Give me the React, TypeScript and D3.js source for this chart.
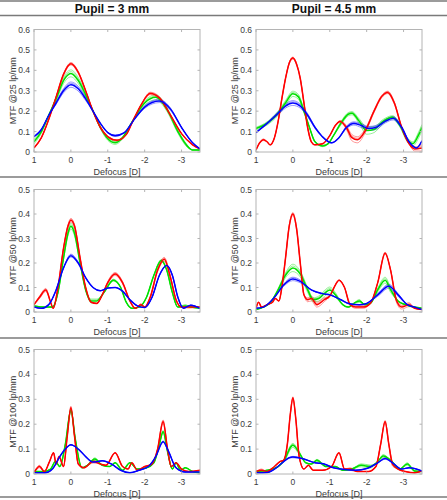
import React from 'react';
import * as d3 from 'd3';

type P = number[]; // [defocus, mtf, spread]

const pupilTitles = ['Pupil = 3 mm', 'Pupil = 4.5 mm'];
const freqLabels = ['MTF @25 lp/mm', 'MTF @50 lp/mm', 'MTF @100 lp/mm'];
const xLabel = 'Defocus [D]';
const xTicks = [1, 0, -1, -2, -3];
const xDomain = [1, -3.5];
const yTicksRow1 = [0, 0.1, 0.2, 0.3, 0.4, 0.5, 0.6];
const yTicksRow23 = [0, 0.1, 0.2, 0.3, 0.4, 0.5];
const yMaxByRow = [0.6, 0.5, 0.5];

// ---- Pupil 3 mm, 25 lp/mm
const p3f25Red: P[] = [[1,0.02],[0.8,0.07],[0.6,0.16],[0.4,0.27],[0.2,0.38,0.004],[0,0.432,0.006],[-0.2,0.39,0.005],[-0.4,0.3],[-0.6,0.2],[-0.8,0.12],[-1,0.075],[-1.25,0.057,0.003],[-1.5,0.085],[-1.7,0.16],[-1.9,0.23],[-2.15,0.287,0.006],[-2.4,0.265,0.006],[-2.7,0.18],[-3,0.09],[-3.3,0.035],[-3.5,0.015]];
const p3f25Green: P[] = [[1,0.05,0.01],[0.8,0.1,0.008],[0.6,0.18],[0.4,0.26,0.01],[0.2,0.35,0.015],[0,0.385,0.017],[-0.2,0.35,0.015],[-0.4,0.28,0.01],[-0.6,0.2],[-0.8,0.12,0.006],[-1,0.065,0.008],[-1.2,0.045,0.008],[-1.4,0.07,0.006],[-1.7,0.16],[-2,0.24,0.01],[-2.3,0.268,0.012],[-2.6,0.21,0.01],[-2.9,0.1,0.008],[-3.15,0.03,0.006],[-3.3,0.01],[-3.5,0.01]];
const p3f25Blue: P[] = [[1,0.075],[0.8,0.11],[0.6,0.18],[0.4,0.24,0.006],[0.2,0.3,0.01],[0,0.33,0.013],[-0.2,0.31,0.012],[-0.4,0.26,0.008],[-0.6,0.2],[-0.8,0.14],[-1,0.095],[-1.2,0.08,0.004],[-1.45,0.095],[-1.7,0.155],[-2,0.22,0.006],[-2.4,0.25,0.008],[-2.7,0.21,0.006],[-3,0.12],[-3.3,0.045],[-3.5,0.015]];

// ---- Pupil 4.5 mm, 25 lp/mm
const p45f25Red: P[] = [[1,0.01],[0.9,0.045],[0.8,0.06,0.004],[0.7,0.05],[0.62,0.035],[0.5,0.07],[0.4,0.15],[0.3,0.26],[0.2,0.36],[0.1,0.435,0.004],[0,0.46,0.005],[-0.1,0.43,0.004],[-0.2,0.36],[-0.3,0.24],[-0.4,0.12],[-0.5,0.05],[-0.6,0.035],[-0.8,0.04],[-1,0.08],[-1.15,0.13],[-1.28,0.15,0.004],[-1.45,0.12,0.01],[-1.6,0.07,0.015],[-1.75,0.06,0.015],[-1.95,0.1,0.01],[-2.2,0.2,0.006],[-2.4,0.27,0.006],[-2.57,0.292,0.006],[-2.75,0.24,0.006],[-2.95,0.12],[-3.15,0.04],[-3.3,0.015,0.01],[-3.5,0.02,0.015]];
const p45f25Green: P[] = [[1,0.115,0.006],[0.7,0.14,0.008],[0.4,0.19,0.01],[0.2,0.24,0.012],[0,0.285,0.013],[-0.15,0.27,0.012],[-0.3,0.2,0.008],[-0.45,0.12],[-0.6,0.05],[-0.8,0.03,0.004],[-0.95,0.04],[-1.1,0.08],[-1.3,0.14,0.008],[-1.5,0.185,0.008],[-1.6,0.19,0.008],[-1.8,0.15,0.012],[-2,0.105,0.018],[-2.2,0.11,0.015],[-2.45,0.15,0.01],[-2.7,0.17,0.008],[-2.9,0.13,0.008],[-3.1,0.06,0.01],[-3.25,0.04,0.01],[-3.4,0.08,0.015],[-3.5,0.12,0.015]];
const p45f25Blue: P[] = [[1,0.095],[0.7,0.14,0.004],[0.4,0.19,0.008],[0.2,0.225,0.01],[0,0.24,0.012],[-0.2,0.225,0.01],[-0.4,0.18,0.008],[-0.6,0.12,0.004],[-0.8,0.075],[-1.05,0.045],[-1.25,0.07],[-1.45,0.12,0.006],[-1.65,0.14,0.008],[-1.85,0.13,0.01],[-2.05,0.115,0.01],[-2.25,0.12,0.01],[-2.5,0.15,0.008],[-2.72,0.165,0.008],[-2.95,0.12,0.006],[-3.15,0.05],[-3.35,0.02],[-3.5,0.055]];

// ---- Pupil 3 mm, 50 lp/mm
const p3f50Red: P[] = [[1,0.03],[0.85,0.06,0.005],[0.68,0.09,0.006],[0.55,0.04],[0.48,0.015],[0.35,0.1],[0.2,0.26],[0.08,0.35,0.006],[0,0.375,0.007],[-0.1,0.35,0.006],[-0.25,0.22],[-0.4,0.1],[-0.55,0.04],[-0.7,0.035],[-0.85,0.07],[-1,0.12,0.005],[-1.2,0.155,0.006],[-1.4,0.12,0.005],[-1.6,0.045],[-1.75,0.015],[-1.9,0.03,0.004],[-2,0.02],[-2.15,0.06],[-2.35,0.17,0.006],[-2.53,0.215,0.008],[-2.7,0.14,0.006],[-2.85,0.05],[-3,0.02],[-3.2,0.02,0.004],[-3.5,0.02]];
const p3f50Green: P[] = [[1,0.025],[0.7,0.02],[0.5,0.02],[0.35,0.08],[0.2,0.22,0.006],[0.08,0.32,0.01],[0,0.35,0.012],[-0.1,0.32,0.01],[-0.25,0.2,0.006],[-0.4,0.09],[-0.55,0.045,0.008],[-0.7,0.045,0.008],[-0.9,0.08],[-1.15,0.13,0.004],[-1.35,0.1],[-1.5,0.04],[-1.65,0.015],[-1.85,0.02],[-2.05,0.06],[-2.25,0.15],[-2.45,0.21,0.004],[-2.6,0.17],[-2.75,0.08],[-2.9,0.02],[-3.1,0.025,0.005],[-3.25,0.02],[-3.5,0.015]];
const p3f50Blue: P[] = [[1,0.02],[0.8,0.015],[0.6,0.03],[0.4,0.09],[0.2,0.18],[0,0.23,0.006],[-0.2,0.2,0.004],[-0.4,0.14],[-0.6,0.1],[-0.8,0.087],[-1,0.098],[-1.2,0.1],[-1.4,0.085],[-1.6,0.05],[-1.8,0.025],[-2,0.018],[-2.2,0.06],[-2.4,0.15],[-2.6,0.19],[-2.75,0.15],[-2.9,0.06],[-3.05,0.015],[-3.25,0.028],[-3.5,0.015]];

// ---- Pupil 4.5 mm, 50 lp/mm
const p45f50Red: P[] = [[1,0.015],[0.93,0.04],[0.85,0.02],[0.7,0.03],[0.55,0.04],[0.48,0.055],[0.38,0.045],[0.3,0.1],[0.2,0.22],[0.1,0.35,0.005],[0,0.4,0.006],[-0.1,0.34,0.005],[-0.2,0.2],[-0.3,0.07],[-0.4,0.05,0.008],[-0.5,0.055,0.01],[-0.65,0.03,0.01],[-0.85,0.05,0.008],[-1,0.065],[-1.15,0.11],[-1.25,0.13],[-1.4,0.1],[-1.55,0.03],[-1.7,0.02,0.005],[-1.9,0.02,0.005],[-2.1,0.035],[-2.3,0.12],[-2.5,0.24,0.004],[-2.65,0.17],[-2.8,0.05,0.008],[-2.95,0.02,0.008],[-3.15,0.03,0.008],[-3.3,0.015],[-3.5,0.01]];
const p45f50Green: P[] = [[1,0.01],[0.8,0.02],[0.6,0.04],[0.4,0.09,0.006],[0.2,0.15,0.01],[0,0.18,0.015],[-0.2,0.155,0.012],[-0.4,0.09,0.01],[-0.55,0.05,0.008],[-0.7,0.055,0.01],[-0.85,0.075,0.012],[-1,0.09,0.012],[-1.15,0.07,0.01],[-1.35,0.03],[-1.5,0.02],[-1.65,0.035],[-1.8,0.045,0.006],[-1.95,0.03],[-2.1,0.035],[-2.3,0.09,0.008],[-2.5,0.13,0.012],[-2.65,0.09,0.01],[-2.85,0.045],[-3.05,0.03],[-3.3,0.02],[-3.5,0.015]];
const p45f50Blue: P[] = [[1,0.015],[0.8,0.02],[0.5,0.06],[0.25,0.11,0.005],[0,0.135,0.007],[-0.2,0.125,0.006],[-0.5,0.09],[-0.8,0.075],[-1,0.07],[-1.3,0.05],[-1.5,0.035],[-1.8,0.03],[-2,0.035],[-2.3,0.07,0.006],[-2.6,0.105,0.008],[-2.85,0.07,0.006],[-3.1,0.03],[-3.3,0.02],[-3.5,0.01]];

// ---- Pupil 3 mm, 100 lp/mm
const p3f100Red: P[] = [[1,0.005],[0.85,0.03,0.005],[0.72,0.01],[0.58,0.05],[0.47,0.085],[0.4,0.04],[0.32,0.07],[0.2,0.03],[0.1,0.15],[0,0.265,0.007],[-0.1,0.15],[-0.2,0.04],[-0.35,0.025],[-0.6,0.05,0.006],[-0.8,0.04],[-0.95,0.035],[-1.2,0.085],[-1.4,0.03],[-1.55,0.02],[-1.65,0.045],[-1.8,0.015],[-2,0.03],[-2.2,0.04],[-2.35,0.1],[-2.5,0.21,0.007],[-2.62,0.1],[-2.72,0.03],[-2.85,0.045],[-3,0.02],[-3.2,0.01],[-3.5,0.015]];
const p3f100Green: P[] = [[1,0.01],[0.75,0.01],[0.55,0.02],[0.42,0.05],[0.3,0.03],[0.15,0.12],[0,0.255,0.005],[-0.12,0.14],[-0.3,0.025],[-0.45,0.035],[-0.65,0.06,0.005],[-0.85,0.035],[-1.05,0.03],[-1.2,0.045],[-1.4,0.015],[-1.6,0.045],[-1.8,0.02],[-2.05,0.025],[-2.25,0.045],[-2.4,0.12],[-2.5,0.17,0.005],[-2.62,0.09],[-2.75,0.02],[-2.85,0.045],[-2.97,0.015],[-3.1,0.025],[-3.3,0.01],[-3.5,0.005]];
const p3f100Blue: P[] = [[1,0.005],[0.7,0.005],[0.5,0.02],[0.3,0.07],[0.15,0.1],[0,0.117],[-0.2,0.1],[-0.4,0.07],[-0.6,0.048],[-0.85,0.053],[-1.1,0.04],[-1.35,0.015],[-1.6,0.005],[-1.85,0.015],[-2.1,0.03],[-2.3,0.07],[-2.5,0.13,0.003],[-2.65,0.09],[-2.85,0.025],[-3.1,0.008],[-3.5,0.008]];

// ---- Pupil 4.5 mm, 100 lp/mm
const p45f100Red: P[] = [[1,0.01],[0.85,0.015,0.005],[0.7,0.01],[0.5,0.03],[0.35,0.05],[0.25,0.055],[0.15,0.12],[0.07,0.24],[0,0.305,0.005],[-0.08,0.22],[-0.17,0.07],[-0.3,0.02],[-0.42,0.035],[-0.55,0.015],[-0.8,0.015],[-1.05,0.03],[-1.25,0.085],[-1.4,0.02],[-1.55,0.02,0.005],[-1.75,0.01],[-2.05,0.01],[-2.25,0.03],[-2.38,0.12],[-2.5,0.21,0.005],[-2.6,0.12],[-2.7,0.04,0.008],[-2.85,0.02],[-3.05,0.01],[-3.3,0.005],[-3.5,0.012]];
const p45f100Green: P[] = [[1,0.01],[0.7,0.015],[0.4,0.03],[0.2,0.065,0.006],[0.05,0.11,0.008],[0,0.115,0.008],[-0.15,0.09,0.006],[-0.35,0.045],[-0.5,0.04],[-0.65,0.055,0.004],[-0.9,0.03],[-1.15,0.03],[-1.35,0.015],[-1.6,0.02],[-1.85,0.035,0.006],[-2.1,0.03,0.006],[-2.3,0.05],[-2.45,0.072,0.006],[-2.65,0.055],[-2.9,0.02],[-3.1,0.04,0.005],[-3.3,0.012],[-3.5,0.01]];
const p45f100Blue: P[] = [[1,0.005],[0.7,0.006],[0.45,0.025],[0.25,0.05],[0.1,0.065],[0,0.068,0.003],[-0.3,0.06],[-0.6,0.045],[-0.85,0.04],[-1.1,0.025],[-1.4,0.018],[-1.7,0.015],[-2,0.022],[-2.3,0.045],[-2.5,0.062,0.003],[-2.7,0.045],[-2.95,0.02],[-3.15,0.025],[-3.5,0.012]];

const panelSeries: P[][][][] = [
  [[p3f25Green, p3f25Red, p3f25Blue], [p45f25Green, p45f25Red, p45f25Blue]],
  [[p3f50Green, p3f50Red, p3f50Blue], [p45f50Green, p45f50Red, p45f50Blue]],
  [[p3f100Green, p3f100Red, p3f100Blue], [p45f100Green, p45f100Red, p45f100Blue]],
];
const seriesColors = ['#00e000', '#ff0000', '#0000ff'];

// layout
const W = 447;
const H = 500;
const colX = [[34, 200], [256, 422]];
const rowY = [[29.5, 152], [189.5, 312], [349.5, 474]];
const sepY = [1, 15.5, 177, 338, 497];
const font = 'Liberation Sans, Arial, Helvetica, sans-serif';

function Panel({ r, c }: { r: number; c: number }) {
  const [x0, x1] = colX[c];
  const [yTop, yBot] = rowY[r];
  const x = d3.scaleLinear().domain(xDomain).range([x0, x1]);
  const y = d3.scaleLinear().domain([0, yMaxByRow[r]]).range([yBot, yTop]);
  const yTicks = r === 0 ? yTicksRow1 : yTicksRow23;
  const clipId = `clip-${r}-${c}`;
  const mk = (k: number) =>
    d3.line<P>()
      .x((d) => x(d[0]))
      .y((d) => y(d[1] + k * (d[2] || 0)))
      .curve(d3.curveMonotoneX);
  const tick = 2.5;
  const axisColor = '#b4b4b4';
  const textColor = '#3a3a3a';
  return (
    <g>
      <defs>
        <clipPath id={clipId}>
          <rect x={x0} y={yTop} width={x1 - x0} height={yBot - yTop} />
        </clipPath>
      </defs>
      <g clipPath={`url(#${clipId})`}>
        {panelSeries[r][c].map((s, i) => (
          <g key={'f' + i} fill="none" stroke={seriesColors[i]} strokeOpacity={0.45} strokeWidth={0.9}>
            <path d={mk(1)(s) || ''} />
            <path d={mk(-1)(s) || ''} />
            <path d={mk(0.5)(s) || ''} />
          </g>
        ))}
        {panelSeries[r][c].map((s, i) => (
          <path key={'m' + i} d={mk(0)(s) || ''} fill="none" stroke={seriesColors[i]} strokeWidth={1.5} />
        ))}
      </g>
      <rect x={x0} y={yTop} width={x1 - x0} height={yBot - yTop} fill="none" stroke={axisColor} strokeWidth={1} />
      {xTicks.map((t) => (
        <g key={'xt' + t}>
          <line x1={x(t)} x2={x(t)} y1={yBot} y2={yBot - tick} stroke={axisColor} />
          <line x1={x(t)} x2={x(t)} y1={yTop} y2={yTop + tick} stroke={axisColor} />
          <text x={x(t)} y={yBot + 10.5} textAnchor="middle" fontSize={8.5} fill={textColor} fontFamily={font}>
            {String(t)}
          </text>
        </g>
      ))}
      {yTicks.map((t) => (
        <g key={'yt' + t}>
          <line x1={x0} x2={x0 + tick} y1={y(t)} y2={y(t)} stroke={axisColor} />
          <line x1={x1} x2={x1 - tick} y1={y(t)} y2={y(t)} stroke={axisColor} />
          <text x={x0 - 4} y={y(t) + 3} textAnchor="end" fontSize={8.5} fill={textColor} fontFamily={font}>
            {String(t)}
          </text>
        </g>
      ))}
      <text x={(x0 + x1) / 2} y={yBot + 23} textAnchor="middle" fontSize={9} fill={textColor} fontFamily={font}>
        {xLabel}
      </text>
      <text
        transform={`translate(${x0 - 18},${(yTop + yBot) / 2}) rotate(-90)`}
        textAnchor="middle"
        fontSize={9}
        fill={textColor}
        fontFamily={font}
      >
        {freqLabels[r]}
      </text>
    </g>
  );
}

export default function App() {
  return (
    <svg
      width={W}
      height={H}
      viewBox={`0 0 ${W} ${H}`}
      style={{ position: 'absolute', left: 0, top: 0, background: '#fff' }}
    >
      <rect x={0} y={0} width={W} height={H} fill="#fff" />
      {sepY.map((yy, i) => (
        <line key={'s' + i} x1={0} x2={W} y1={yy} y2={yy} stroke="#7a7a7a" strokeWidth={1.4} />
      ))}
      {pupilTitles.map((t, c) => (
        <text
          key={t}
          x={c === 0 ? 112 : 334}
          y={13}
          textAnchor="middle"
          fontSize={12}
          fontWeight="bold"
          fill="#111"
          fontFamily={font}
        >
          {t}
        </text>
      ))}
      {[0, 1, 2].map((r) => [0, 1].map((c) => <Panel key={`${r}-${c}`} r={r} c={c} />))}
    </svg>
  );
}
